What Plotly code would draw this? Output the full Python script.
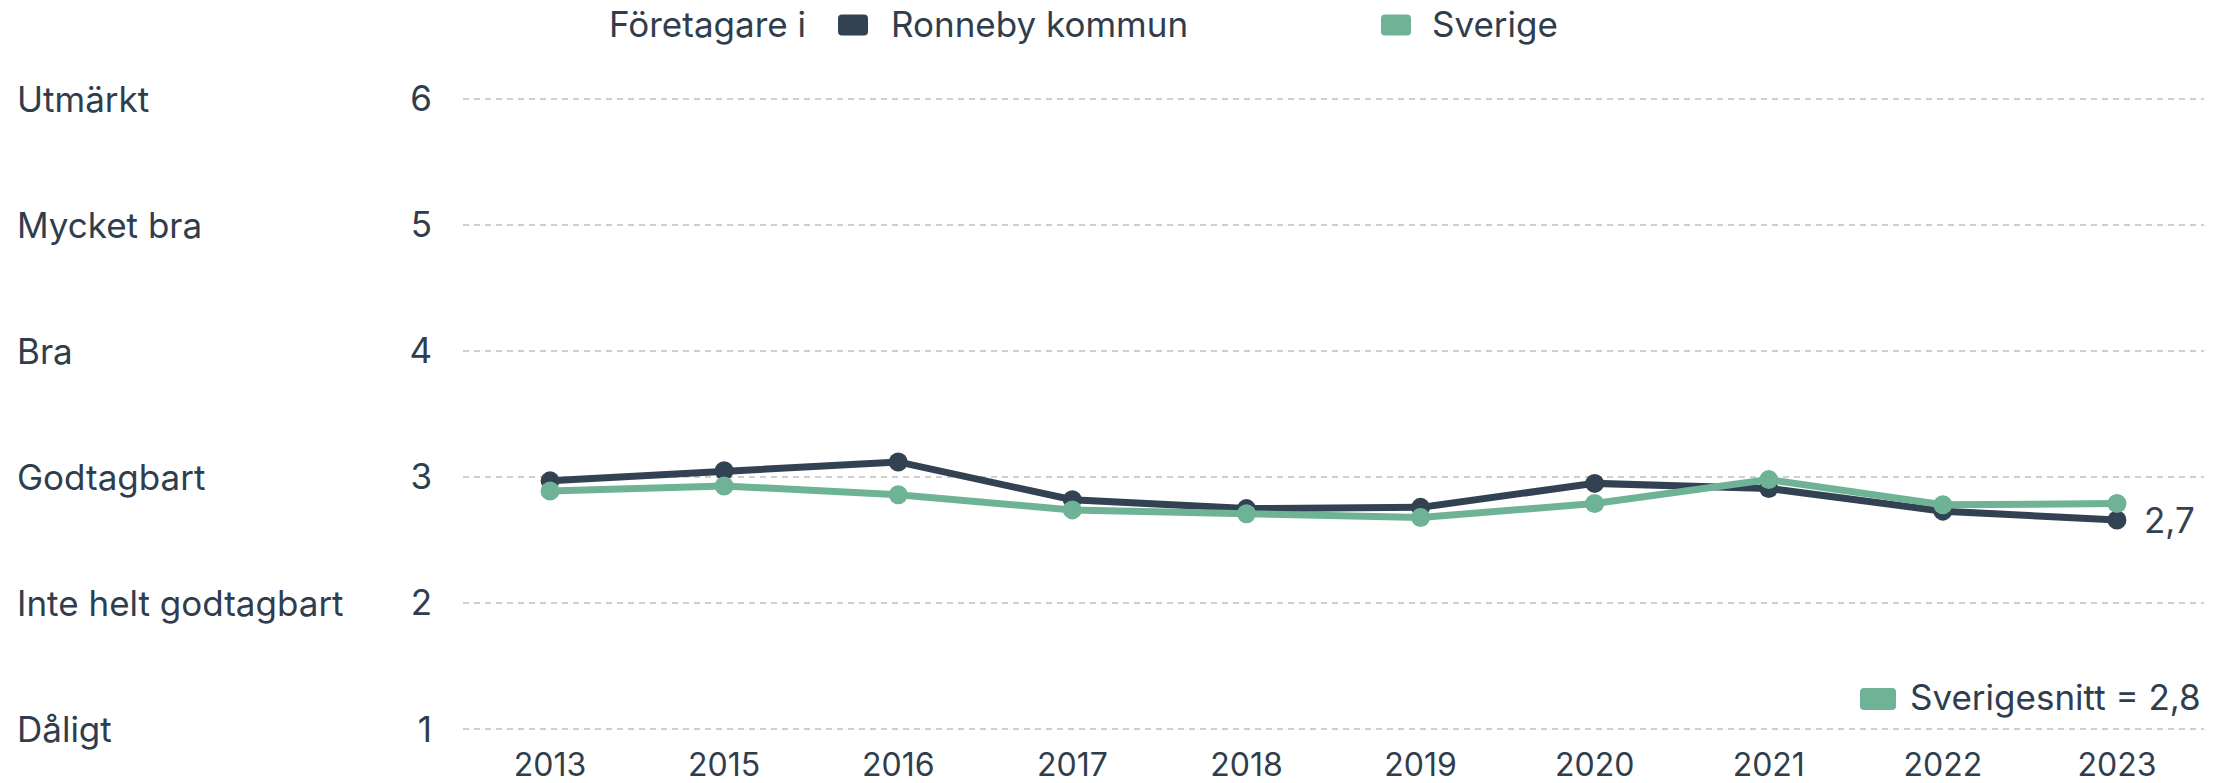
import plotly.graph_objects as go

years = ["2013", "2015", "2016", "2017", "2018", "2019", "2020", "2021", "2022", "2023"]
ronneby = [2.97, 3.05, 3.12, 2.82, 2.75, 2.76, 2.95, 2.91, 2.73, 2.66]
sverige = [2.89, 2.93, 2.86, 2.74, 2.71, 2.68, 2.79, 2.98, 2.78, 2.79]
scale_vals = [1, 2, 3, 4, 5, 6]
scale_labels = ["Dåligt", "Inte helt godtagbart", "Godtagbart", "Bra", "Mycket bra", "Utmärkt"]
legend_title = "Företagare i"
series_names = ["Ronneby kommun", "Sverige"]

DARK = "#334252"
GREEN = "#6fb396"
TEXT = "#2f3d4d"
FONT = "Inter"
FS = 35

W, H = 2232, 783
L, R, T, B = 463, 28, 86, 41
PW, PH = W - L - R, H - T - B


def px_x(px):
    return (px - L) / PW


def px_y(py):
    return 1 - (py - T) / PH


def fmt(v):
    return f"{v:.1f}".replace(".", ",")


def rounded_box(cx, cy, w, h, r, color):
    hw, hh = w / 2, h / 2
    path = (f"M {-hw + r},{-hh} L {hw - r},{-hh} Q {hw},{-hh} {hw},{-hh + r} "
            f"L {hw},{hh - r} Q {hw},{hh} {hw - r},{hh} L {-hw + r},{hh} Q {-hw},{hh} {-hw},{hh - r} "
            f"L {-hw},{-hh + r} Q {-hw},{-hh} {-hw + r},{-hh} Z")
    return dict(type="path", xref="paper", yref="paper", xsizemode="pixel", ysizemode="pixel",
                xanchor=px_x(cx), yanchor=px_y(cy), path=path, fillcolor=color, line=dict(width=0))


fig = go.Figure()
fig.add_trace(go.Scatter(x=years, y=ronneby, mode="lines+markers", name=series_names[0],
                         line=dict(color=DARK, width=7), marker=dict(color=DARK, size=19),
                         showlegend=False))
fig.add_trace(go.Scatter(x=years, y=sverige, mode="lines+markers", name=series_names[1],
                         line=dict(color=GREEN, width=7), marker=dict(color=GREEN, size=19),
                         showlegend=False))

annotations = []
for v, lab in zip(scale_vals, scale_labels):
    annotations.append(dict(x=px_x(15), xref="paper", y=v, yref="y", text=lab, showarrow=False,
                            xanchor="left", yanchor="middle", font=dict(size=FS, color=TEXT, family=FONT)))

# end label
annotations.append(dict(x=len(years) - 1, y=ronneby[-1], xref="x", yref="y", text=fmt(ronneby[-1]),
                        showarrow=False, xanchor="left", yanchor="middle", xshift=25,
                        font=dict(size=FS, color=DARK, family=FONT)))

# top legend
for txt, xp in [(legend_title, 607), (series_names[0], 889), (series_names[1], 1430)]:
    annotations.append(dict(x=px_x(xp), xref="paper", y=px_y(24), yref="paper", text=txt,
                            showarrow=False, xanchor="left", yanchor="middle",
                            font=dict(size=FS, color=TEXT, family=FONT)))
# Sverigesnitt
annotations.append(dict(x=px_x(2203), xref="paper", y=px_y(697), yref="paper",
                        text=f"Sverigesnitt = {fmt(sverige[-1])}",
                        showarrow=False, xanchor="right", yanchor="middle",
                        font=dict(size=FS, color=TEXT, family=FONT)))

shapes = [
    rounded_box(853, 25, 30, 21, 4, DARK),
    rounded_box(1396, 25, 30, 21, 4, GREEN),
    rounded_box(1878, 699, 36, 22, 4, GREEN),
]

fig.update_layout(
    width=W, height=H,
    margin=dict(l=L, r=R, t=T, b=B, autoexpand=False),
    paper_bgcolor="white", plot_bgcolor="white",
    font=dict(family=FONT, color=TEXT),
    annotations=annotations, shapes=shapes,
    showlegend=False,
    xaxis=dict(type="category", range=[-0.5, len(years) - 0.5], showgrid=False, zeroline=False,
               showline=False, ticks="", tickfont=dict(size=32, color=TEXT, family=FONT),
               ticklabelstandoff=1, automargin=False),
    yaxis=dict(range=[0.9, 6.1], tickvals=scale_vals, ticktext=[str(v) for v in scale_vals],
               showgrid=True, gridcolor="#cfcfcf", gridwidth=1.5, griddash="6px,5px",
               zeroline=False, showline=False, ticks="", ticklabelstandoff=30, automargin=False,
               tickfont=dict(size=FS, color=TEXT, family=FONT)),
)

fig.write_html("out.html", config={"displayModeBar": False},
               post_script="document.body.style.margin='0';document.body.style.overflow='hidden';")
